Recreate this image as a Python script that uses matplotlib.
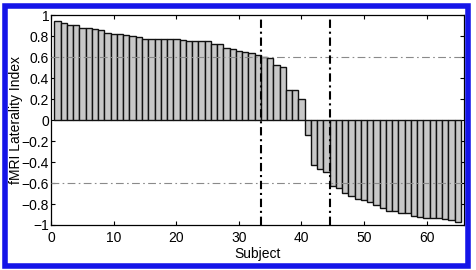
import matplotlib
matplotlib.use("Agg")
import matplotlib.pyplot as plt
from matplotlib.patches import Rectangle
import numpy as np

subjects = list(range(1, 66))
laterality = [0.945, 0.925, 0.91, 0.905, 0.88, 0.88, 0.875, 0.86, 0.83, 0.825,
              0.82, 0.81, 0.80, 0.79, 0.78, 0.78, 0.78, 0.775, 0.775, 0.775,
              0.77, 0.76, 0.76, 0.76, 0.755, 0.73, 0.73, 0.69, 0.68, 0.665,
              0.655, 0.64, 0.62, 0.605, 0.59, 0.525, 0.51, 0.285, 0.285, 0.205,
              -0.14, -0.425, -0.47, -0.49, -0.63, -0.645, -0.695, -0.72, -0.755, -0.765,
              -0.78, -0.805, -0.84, -0.865, -0.87, -0.885, -0.89, -0.915, -0.925, -0.93,
              -0.935, -0.935, -0.94, -0.95, -0.975]
thresholds = [0.6, -0.6]
boundaries = [33.5, 44.5]
xticks = [0, 10, 20, 30, 40, 50, 60]
yticks = [-1, -0.8, -0.6, -0.4, -0.2, 0, 0.2, 0.4, 0.6, 0.8, 1]
ytick_labels = ["\u22121", "\u22120.8", "\u22120.6", "\u22120.4", "\u22120.2", "0",
                "0.2", "0.4", "0.6", "0.8", "1"]

plt.rcParams['font.family'] = ['Liberation Sans', 'DejaVu Sans']

fig = plt.figure(figsize=(4.76, 2.70), dpi=100)
ax = fig.add_axes([0.1078, 0.1667, 0.975 - 0.1078, 0.9426 - 0.1667])

ax.bar(subjects, laterality, width=1.0, color='#c8c8c8', edgecolor='#111111',
       linewidth=1.0, zorder=2)
for t in thresholds:
    ax.axhline(t, color='#8a8a8a', linestyle=(0, (7, 3, 1.5, 3)), linewidth=0.8, zorder=3)
for b in boundaries:
    ax.axvline(b, color='black', linestyle=(0, (4, 1.8, 1.0, 1.8)), linewidth=1.5, zorder=4)

ax.set_xlim(0, 66)
ax.set_ylim(-1, 1)
ax.set_xticks(xticks)
ax.set_yticks(yticks)
ax.set_yticklabels(ytick_labels)
ax.tick_params(direction='in', top=True, right=True, length=3, width=0.8,
               labelsize=10)
ax.tick_params(axis='y', pad=1.5)
ax.tick_params(axis='x', pad=4)
for s in ax.spines.values():
    s.set_linewidth(0.9)
ax.set_xlabel('Subject', fontsize=10)
ax.set_ylabel('fMRI Laterality Index', fontsize=10)
ax.xaxis.set_label_coords(0.5, -0.105)
ax.yaxis.set_label_coords(-0.068, 0.5)

# blue frame around the figure
fig.patches.append(Rectangle((4.5 / 476, 1 - 265.5 / 270), (468 - 4.5) / 476, (265.5 - 6) / 270,
                             transform=fig.transFigure, fill=False,
                             edgecolor='#1414e8', linewidth=4, zorder=10))

fig.savefig('out.png', dpi=100)
